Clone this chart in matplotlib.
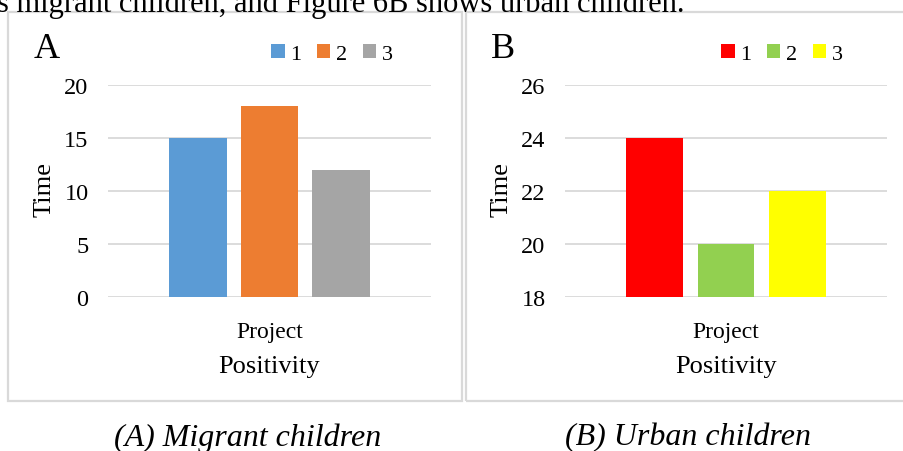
import matplotlib.pyplot as plt
from matplotlib.patches import Rectangle

# data
groups = ["1", "2", "3"]
category = "Project"
migrant_vals = [15, 18, 12]
urban_vals = [24, 20, 22]
migrant_colors = ["#5b9bd5", "#ed7d31", "#a5a5a5"]
urban_colors = ["#ff0000", "#92d050", "#ffff00"]

plt.rcParams['font.family'] = ['Liberation Serif', 'DejaVu Serif']

W, H = 904, 452
fig = plt.figure(figsize=(W / 100, H / 100), dpi=100)


def fx(x):
    return x / W


def fy(y):
    return 1 - y / H


# cut-off line of body text at the top
fig.text(fx(-3), fy(12), "s migrant children, and Figure 6B shows urban children.",
         fontsize=22, va='baseline', ha='left')

grid_c = '#d9d9d9'


def panel(left, right, vals, colors, ylim, yticks, letter, box, leg_x, caption, cap_x):
    # panel frame
    fig.patches.append(Rectangle((fx(box[0]), fy(box[3])), fx(box[1] - box[0]),
                                 (box[3] - box[2]) / H, transform=fig.transFigure,
                                 fill=False, edgecolor=grid_c, lw=1.6))
    ax = fig.add_axes([fx(left), fy(298), fx(right - left), (298 - 86) / H])
    xs = [-1, 0, 1]
    bars = []
    for x, v, c, g in zip(xs, vals, colors, groups):
        bars.append(ax.bar(x, v, width=0.8, color=c, label=g, zorder=2))
    ax.set_xlim(-2.26, 2.26)
    ax.set_ylim(*ylim)
    ax.set_yticks(yticks)
    ax.set_xticks([0])
    ax.set_xticklabels([category], fontsize=17)
    ax.tick_params(axis='y', length=0, labelsize=17.5, pad=14)
    ax.tick_params(axis='x', length=0, pad=17)
    ax.grid(axis='y', color=grid_c, lw=1.3, zorder=0)
    for s in ax.spines.values():
        s.set_visible(False)
    ax.set_axisbelow(True)

    mid = (left + right) / 2
    fig.text(fx(mid), fy(367), "Positivity", fontsize=19, ha='center', va='center')
    fig.text(fx(left - 63), fy(190), "Time", fontsize=19, rotation=90,
             ha='center', va='center')
    fig.text(fx(left - 74), fy(58), letter, fontsize=26, ha='left', va='baseline')

    fig.legend(handles=bars, labels=groups, loc='center',
               bbox_to_anchor=(fx(leg_x), fy(55)), ncol=3, frameon=False,
               fontsize=16, handlelength=0.6, handleheight=0.6,
               handletextpad=0.25, columnspacing=0.7, borderpad=0)

    fig.text(fx(cap_x), fy(438), caption, fontsize=23, style='italic',
             ha='center', va='center')


panel(108, 431, migrant_vals, migrant_colors, (0, 20), [0, 5, 10, 15, 20], "A",
      (8, 462, 13, 402), 332, "(A) Migrant children", 248)
panel(565, 887, urban_vals, urban_colors, (18, 26), [18, 20, 22, 24, 26], "B",
      (466, 910, 13, 402), 782, "(B) Urban children", 688)

fig.savefig("out.png", dpi=100)
